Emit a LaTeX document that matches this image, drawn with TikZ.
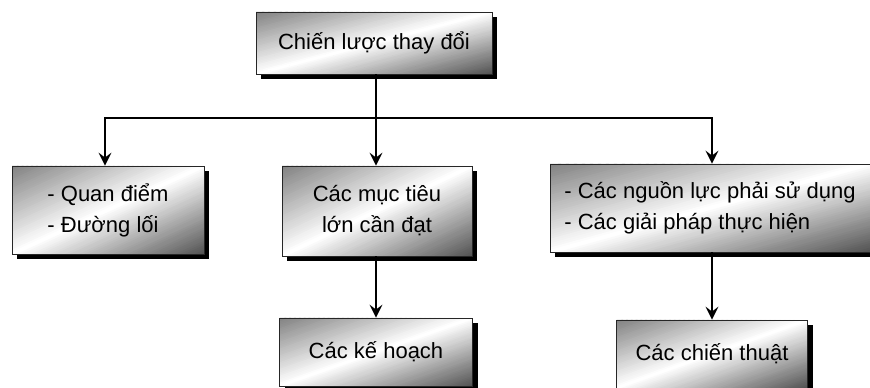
\documentclass[tikz,border=0pt]{standalone}
\usepackage{fontspec}
\setmainfont{Liberation Sans}
\usetikzlibrary{arrows.meta}

% A box: black drop shadow, diagonal grey-white-grey fill, framed node on top.
% #1 name, #2 centre, #3 width, #4 height, #5 node options, #6 text
\newcommand\gradbox[6]{%
  \begin{scope}[shift={#2}]
    \fill[black] (-#3/2+5,-#4/2-5) rectangle (#3/2+5,#4/2-5);
    \begin{scope}
      \clip (-#3/2,-#4/2) rectangle (#3/2,#4/2);
      \begin{scope}[shift={(-#3/2,-#4/2)}, x=#3pt, y=#4pt]
        \foreach \gI in {0,...,79}{
          \pgfmathsetmacro\gKa{-1+\gI/40}
          \pgfmathsetmacro\gKb{\gKa+1/40+0.01}
          \pgfmathsetmacro\gT{(\gI+0.5)/80}
          \pgfmathtruncatemacro\gP{\gT<0.5 ? 50*(1-2*\gT) : 68*(2*\gT-1)}
          \fill[black!\gP] (\gKa,0) -- (\gKa+1,1) -- (\gKb+1,1) -- (\gKb,0) -- cycle;
        }
      \end{scope}
    \end{scope}
  \end{scope}
  \node[box, minimum width=#3pt, minimum height=#4pt, #5] (#1) at #2 {#6};}

\begin{document}
\begin{tikzpicture}[x=1pt,y=1pt,
  box/.style={draw=black!85, line width=0.8pt,
    inner sep=0pt, font=\fontsize{22}{31}\selectfont},
  link/.style={line width=1.4pt, black},
  arrow/.style={link, -{Stealth[length=13pt,width=13pt,inset=5pt]}}]
\useasboundingbox (0,0) rectangle (870,388);

% boxes
\gradbox{top}{(374,345)}{236}{62}{}{Chiến lược thay đổi}
\gradbox{left}{(108,178)}{192}{88}{align=left}{- Quan điểm\\- Đường lối}
\gradbox{mid}{(377,177)}{190}{90}{align=center}{Các mục tiêu\\lớn cần đạt}
\gradbox{right}{(710,180)}{320}{88}{align=left}{- Các nguồn lực phải sử dụng\\- Các giải pháp thực hiện}
\gradbox{plan}{(376,36)}{193}{68}{}{Các kế hoạch}
\gradbox{tact}{(712,34)}{191}{68}{}{Các chiến thuật}

% connectors
\coordinate (bus) at (376,270);
\coordinate (busL) at (105,270);
\coordinate (busR) at (712,270);
\draw[link] (top.south -| bus) -- (bus);
\draw[arrow] (bus) -- (busL) -- (busL |- left.north);
\draw[arrow] (bus) -- (busR) -- (busR |- right.north);
\draw[arrow] (bus) -- (bus |- mid.north);
\draw[arrow] (mid.south -| bus) -- (bus |- plan.north);
\draw[arrow] (right.south -| busR) -- (busR |- tact.north);
\end{tikzpicture}
\end{document}
